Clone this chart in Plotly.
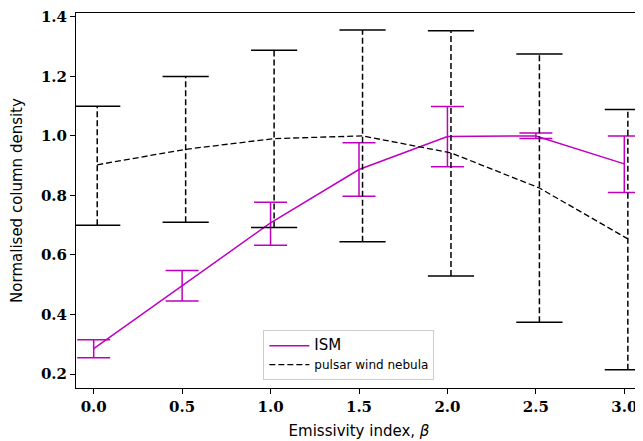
import plotly.graph_objects as go

# ---- data ----
beta = [0.0, 0.5, 1.0, 1.5, 2.0, 2.5, 3.0]
ism_val = [0.285, 0.497, 0.708, 0.887, 0.998, 1.000, 0.906]
ism_lo = [0.255, 0.445, 0.633, 0.797, 0.896, 0.991, 0.810]
ism_hi = [0.315, 0.548, 0.777, 0.977, 1.099, 1.010, 1.000]
pwn_val = [0.903, 0.955, 0.991, 1.000, 0.943, 0.825, 0.654]
pwn_lo = [0.700, 0.710, 0.692, 0.644, 0.529, 0.374, 0.214]
pwn_hi = [1.100, 1.200, 1.288, 1.356, 1.353, 1.275, 1.089]
pwn_offset = 0.02
x_ticks = [0.0, 0.5, 1.0, 1.5, 2.0, 2.5, 3.0]
y_ticks = [0.2, 0.4, 0.6, 0.8, 1.0, 1.2, 1.4]

ISM_COLOR = "#BF00BF"
PWN_COLOR = "black"

fig = go.Figure()

# ISM with solid error bars
fig.add_trace(go.Scatter(
    x=beta, y=ism_val, mode="lines",
    name="<span style='font-size:15px'>ISM</span>",
    line=dict(color=ISM_COLOR, width=1.5),
    error_y=dict(type="data", symmetric=False,
                 array=[h - v for h, v in zip(ism_hi, ism_val)],
                 arrayminus=[v - l for l, v in zip(ism_lo, ism_val)],
                 color=ISM_COLOR, thickness=1.5, width=16.5),
))

# PWN: dashed vertical error lines
pwn_x = [b + pwn_offset for b in beta]
seg_x, seg_y = [], []
for x, lo, hi in zip(pwn_x, pwn_lo, pwn_hi):
    seg_x += [x, x, None]
    seg_y += [lo, hi, None]
fig.add_trace(go.Scatter(
    x=seg_x, y=seg_y, mode="lines", showlegend=False, hoverinfo="skip",
    line=dict(color=PWN_COLOR, width=1.5, dash="6px,3px"),
))
# PWN caps
fig.add_trace(go.Scatter(
    x=pwn_x + pwn_x, y=pwn_lo + pwn_hi, mode="markers", showlegend=False,
    hoverinfo="skip",
    marker=dict(symbol="line-ew", size=33, line=dict(color=PWN_COLOR, width=1.5)),
))
# PWN main line
fig.add_trace(go.Scatter(
    x=pwn_x, y=pwn_val, mode="lines", name="pulsar wind nebula",
    line=dict(color=PWN_COLOR, width=1.3, dash="6px,3px"),
))

# the page body adds an 8px offset; size the figure to fit the window
tick_font = dict(family="DejaVu Serif", size=15, color="black")
fig.update_layout(
    width=635, height=433,
    margin=dict(l=68, r=1, t=5, b=53),
    paper_bgcolor="white", plot_bgcolor="white",
    font=dict(family="DejaVu Sans", color="black"),
    legend=dict(
        x=0.331, y=0.021, xanchor="left", yanchor="bottom",
        bgcolor="rgba(255,255,255,0.9)", bordercolor="#cccccc", borderwidth=1,
        font=dict(family="DejaVu Sans", size=12, color="black"),
        tracegroupgap=0, itemwidth=40,
    ),
    showlegend=True,
)
fig.update_xaxes(
    range=[-0.1, 3.1], tickvals=x_ticks, automargin=False,
    ticktext=["<b>%.1f</b>" % t for t in x_ticks],
    tickfont=tick_font, ticks="outside", ticklen=5, tickwidth=1, tickcolor="black",
    showline=True, linecolor="black", linewidth=1, mirror=True,
    showgrid=False, zeroline=False,
    title=dict(text="Emissivity index, <i>β</i>", font=dict(family="DejaVu Sans", size=15), standoff=10),
)
fig.update_yaxes(
    range=[0.153, 1.413], tickvals=y_ticks, automargin=False,
    ticktext=["<b>%.1f</b>" % t for t in y_ticks],
    tickfont=tick_font, ticks="outside", ticklen=5, tickwidth=1, tickcolor="black",
    showline=True, linecolor="black", linewidth=1, mirror=True,
    showgrid=False, zeroline=False,
    title=dict(text="Normalised column density", font=dict(family="DejaVu Sans", size=15), standoff=14),
)

fig.write_html("out.html")
